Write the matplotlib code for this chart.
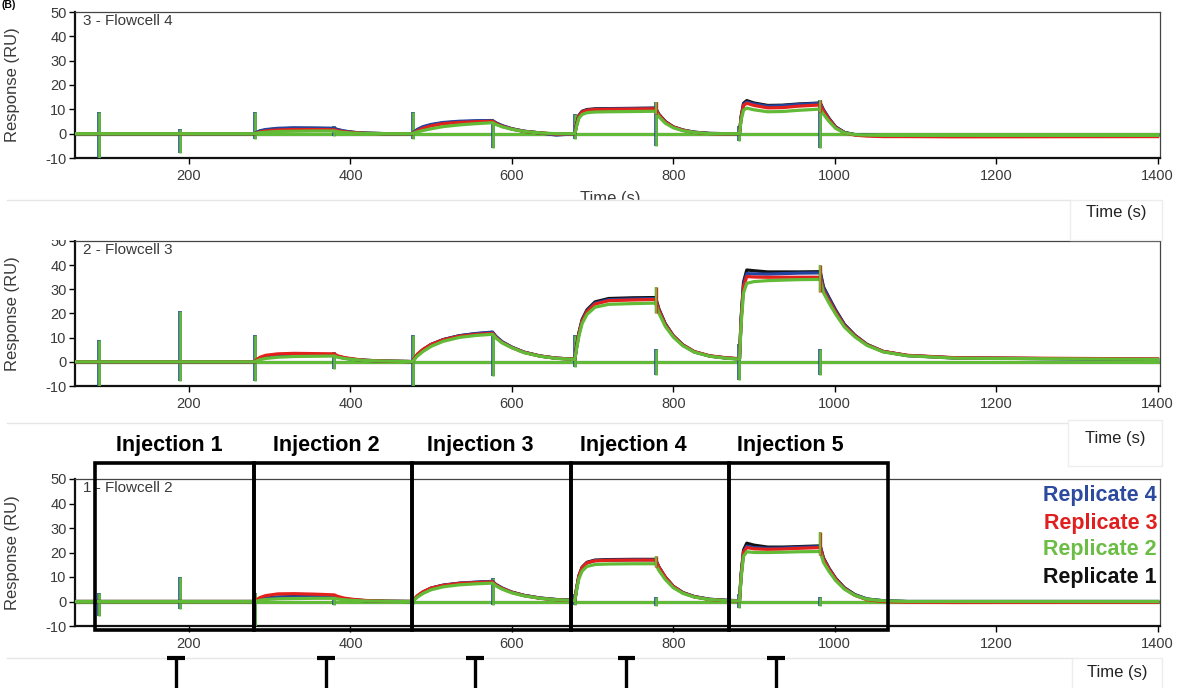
import matplotlib
matplotlib.use("Agg")
import matplotlib.pyplot as plt
from matplotlib.patches import Rectangle
from matplotlib.lines import Line2D
from matplotlib.transforms import blended_transform_factory

plt.rcParams['font.family'] = ['Liberation Sans', 'DejaVu Sans']
plt.rcParams['axes.unicode_minus'] = False

# ---------------------------------------------------------------- data
TIME_S = [
    60,
    282, 284, 288, 295, 310, 330, 355, 380,
    384, 392, 405, 420, 445, 477,
    479, 483, 490, 500, 515, 535, 555, 576,
    580, 588, 600, 615, 635, 655, 678,
    680, 683, 687, 693, 703, 720, 750, 778,
    782, 790, 800, 812, 826, 845, 865, 882,
    884, 887, 891, 900, 917, 935, 955, 982,
    986, 993, 1001, 1012, 1025, 1040, 1060, 1090, 1150, 1400,
]

# Flowcell 4
fc4_rep1 = [0,
            0, 0.5, 1.0, 1.5, 2.0, 2.2, 2.2, 2.1,
            1.6, 1.0, 0.5, 0.2, 0.0, 0.0,
            0.6, 1.5, 2.6, 3.6, 4.4, 4.9, 5.1, 5.3,
            4.4, 3.2, 2.0, 1.0, 0.3, -0.2, 0.0,
            3.5, 7.5, 9.2, 9.9, 10.2, 10.3, 10.4, 10.5,
            8.0, 5.0, 2.8, 1.5, 0.6, 0.1, 0.0, 0.0,
            7.0, 12.5, 13.6, 12.6, 11.6, 11.7, 12.2, 12.6,
            9.8, 6.2, 2.8, 0.5, -0.4, -0.7, -0.8, -0.8, -0.9, -0.9]
fc4_rep4 = [0,
            0, 0.6, 1.2, 1.7, 2.2, 2.4, 2.3, 2.2,
            1.7, 1.1, 0.5, 0.2, 0.0, 0.0,
            0.8, 1.8, 2.9, 3.8, 4.6, 5.1, 5.3, 5.4,
            4.5, 3.3, 2.0, 1.0, 0.3, -0.6, 0.0,
            3.4, 7.3, 9.0, 9.7, 10.0, 10.2, 10.3, 10.4,
            7.9, 4.9, 2.7, 1.4, 0.6, 0.1, 0.0, 0.0,
            6.8, 12.0, 13.0, 12.2, 11.3, 11.5, 12.0, 12.5,
            9.7, 6.1, 2.7, 0.5, -0.4, -0.7, -0.8, -0.8, -0.9, -0.9]
fc4_rep3 = [0,
            0, 0.3, 0.7, 1.1, 1.5, 1.7, 1.7, 1.6,
            1.2, 0.8, 0.4, 0.1, 0.0, 0.0,
            0.5, 1.2, 2.2, 3.2, 4.1, 4.6, 4.9, 5.1,
            4.2, 3.0, 1.9, 0.9, 0.3, -0.2, 0.0,
            3.3, 7.2, 8.9, 9.6, 9.9, 10.0, 10.1, 10.2,
            7.8, 4.8, 2.7, 1.4, 0.5, 0.0, -0.1, 0.0,
            6.5, 11.6, 12.5, 11.6, 10.6, 10.7, 11.3, 11.8,
            9.3, 5.8, 2.5, 0.3, -0.6, -1.0, -1.2, -1.2, -1.3, -1.2]
fc4_rep2 = [0,
            0, 0.2, 0.4, 0.6, 0.9, 1.0, 1.1, 1.1,
            0.8, 0.5, 0.2, 0.1, 0.0, 0.0,
            0.3, 0.7, 1.3, 2.0, 2.9, 3.6, 4.1, 4.5,
            3.8, 2.8, 1.8, 0.9, 0.3, 0.0, 0.0,
            2.8, 6.3, 7.9, 8.6, 8.9, 9.0, 9.1, 9.2,
            7.0, 4.3, 2.4, 1.2, 0.5, 0.0, 0.0, 0.0,
            5.5, 9.6, 10.5, 9.8, 9.0, 9.1, 9.6, 10.1,
            8.0, 5.0, 2.2, 0.3, -0.4, -0.6, -0.7, -0.7, -0.7, -0.7]

# Flowcell 3
fc3_rep1 = [0,
            0, 0.8, 1.5, 2.1, 2.6, 2.8, 2.9, 3.0,
            2.3, 1.6, 1.0, 0.6, 0.3, 0.1,
            1.2, 3.0, 5.0, 7.2, 9.2, 10.8, 11.6, 12.2,
            10.5, 8.2, 6.0, 4.0, 2.4, 1.5, 1.1,
            6.0, 12.0, 17.5, 21.5, 24.8, 26.2, 26.5, 26.6,
            22.0, 15.8, 10.8, 7.0, 4.2, 2.4, 1.6, 1.2,
            18.0, 33.0, 38.0, 37.7, 37.2, 37.2, 37.2, 37.3,
            31.0, 26.5, 21.5, 15.5, 11.0, 7.2, 4.3, 2.6, 1.6, 1.0]
fc3_rep4 = [0,
            0, 0.7, 1.4, 2.0, 2.5, 2.7, 2.8, 2.8,
            2.2, 1.5, 1.0, 0.6, 0.3, 0.1,
            1.2, 3.0, 5.0, 7.2, 9.2, 10.8, 11.7, 12.3,
            10.6, 8.3, 6.1, 4.0, 2.4, 1.5, 1.1,
            5.8, 11.7, 17.0, 21.0, 24.3, 25.7, 26.0, 26.2,
            21.7, 15.6, 10.7, 6.9, 4.1, 2.4, 1.6, 1.2,
            17.5, 32.0, 36.5, 36.4, 36.3, 36.5, 36.7, 36.8,
            30.6, 26.1, 21.2, 15.3, 10.9, 7.1, 4.3, 2.6, 1.6, 1.0]
fc3_rep3 = [0,
            0, 1.0, 1.9, 2.7, 3.3, 3.5, 3.4, 3.3,
            2.5, 1.8, 1.1, 0.6, 0.3, 0.1,
            1.3, 3.2, 5.2, 7.2, 9.1, 10.6, 11.3, 11.8,
            10.2, 8.0, 5.9, 3.9, 2.4, 1.5, 1.1,
            5.7, 11.5, 16.8, 20.7, 23.9, 25.3, 25.6, 25.8,
            21.4, 15.4, 10.6, 6.9, 4.2, 2.5, 1.7, 1.3,
            17.0, 31.0, 35.3, 35.1, 35.0, 35.0, 35.0, 35.0,
            29.4, 25.2, 20.6, 14.9, 10.7, 7.0, 4.3, 2.7, 1.7, 1.2]
fc3_rep2 = [0,
            0, 0.4, 0.9, 1.4, 1.9, 2.2, 2.3, 2.4,
            1.9, 1.4, 0.9, 0.5, 0.3, 0.1,
            0.9, 2.4, 4.3, 6.4, 8.5, 10.1, 10.9, 11.4,
            9.9, 7.8, 5.8, 3.8, 2.3, 1.4, 1.0,
            5.0, 10.5, 15.8, 19.6, 22.6, 23.8, 24.1, 24.3,
            20.2, 14.7, 10.2, 6.6, 4.0, 2.3, 1.5, 1.1,
            15.5, 28.5, 32.5, 33.2, 33.6, 33.8, 34.0, 34.1,
            28.6, 24.3, 19.8, 14.4, 10.3, 6.8, 4.1, 2.5, 1.5, 1.0]

# Flowcell 2
fc2_rep1 = [0,
            0, 0.4, 0.9, 1.4, 1.8, 2.0, 2.1, 2.1,
            1.6, 1.1, 0.6, 0.3, 0.1, 0.0,
            0.8, 2.2, 3.8, 5.4, 6.6, 7.4, 7.8, 8.1,
            6.9, 5.4, 3.8, 2.5, 1.4, 0.8, 0.5,
            5.0, 10.5, 14.0, 16.0, 16.9, 17.1, 17.2, 17.2,
            14.2, 10.0, 6.2, 3.6, 2.0, 0.9, 0.5, 0.3,
            11.0, 21.0, 23.8, 23.0, 22.2, 22.2, 22.4, 22.7,
            17.8, 13.5, 9.5, 5.6, 2.8, 1.0, 0.3, 0.0, 0.0, 0.0]
fc2_rep4 = [0,
            0, 0.4, 0.9, 1.3, 1.7, 1.9, 2.0, 2.0,
            1.5, 1.0, 0.6, 0.3, 0.1, 0.0,
            0.8, 2.2, 3.9, 5.5, 6.7, 7.5, 7.9, 8.2,
            7.0, 5.5, 3.8, 2.5, 1.4, 0.8, 0.5,
            4.9, 10.3, 13.8, 15.8, 16.7, 16.9, 17.0, 17.0,
            14.0, 9.9, 6.1, 3.6, 2.0, 0.9, 0.5, 0.3,
            10.6, 20.3, 22.6, 22.0, 21.7, 21.8, 22.1, 22.4,
            17.6, 13.3, 9.4, 5.5, 2.7, 1.0, 0.3, 0.0, 0.0, 0.0]
fc2_rep3 = [0,
            0, 0.8, 1.6, 2.4, 3.1, 3.2, 3.0, 2.7,
            2.1, 1.4, 0.8, 0.4, 0.1, 0.0,
            0.9, 2.4, 4.0, 5.5, 6.6, 7.4, 7.7, 8.0,
            6.8, 5.3, 3.7, 2.4, 1.3, 0.7, 0.4,
            4.9, 10.4, 13.8, 15.8, 16.6, 16.8, 16.9, 16.9,
            14.0, 9.9, 6.1, 3.5, 1.9, 0.8, 0.4, 0.2,
            10.4, 20.0, 22.0, 21.5, 21.3, 21.4, 21.7, 22.0,
            17.3, 13.1, 9.2, 5.3, 2.5, 0.7, 0.0, -0.3, -0.4, -0.3]
fc2_rep2 = [0,
            0, 0.2, 0.5, 0.8, 1.1, 1.2, 1.3, 1.3,
            1.0, 0.7, 0.4, 0.2, 0.1, 0.0,
            0.6, 1.8, 3.3, 4.8, 6.0, 6.8, 7.2, 7.5,
            6.4, 5.0, 3.5, 2.3, 1.3, 0.7, 0.4,
            4.3, 9.2, 12.4, 14.3, 15.1, 15.3, 15.4, 15.4,
            12.7, 9.0, 5.6, 3.3, 1.8, 0.8, 0.4, 0.2,
            9.5, 18.5, 20.3, 20.0, 20.0, 20.1, 20.3, 20.4,
            16.0, 12.2, 8.6, 5.0, 2.5, 0.9, 0.3, 0.0, 0.0, 0.0]

# buffer (blank) cycles
blank_time = [60, 1400]
blank_resp = [0, 0]

# injection start / stop artefacts
SPIKE_T = [88, 189, 282, 380, 477, 576, 678, 778, 882, 982]
fc4_spike_lo = [-10, -8, -2, -1, -2, -6, -2, -5, -3, -6]
fc4_spike_hi = [9, 2, 9, 3, 9, 5, 8, 13, 3, 14]
fc3_spike_lo = [-10, -8, -8, -3, -10, -6, -2, -5.5, -7.5, -5.5]
fc3_spike_hi = [9, 21, 11, 4, 11, 12.5, 11, 5.5, 7.5, 5.5]
fc2_spike_lo = [-6, -3, -10, -1.5, -1, -1.5, -1.5, -2, -2.5, -2]
fc2_spike_hi = [3.5, 10, 3.5, 2, 2, 9.5, 3, 2, 3, 2]
# artefacts sitting on top of the sample curves at the end of injection
CURVE_SPIKE_T = [778, 982]
fc4_cspike_lo = [8, 9]
fc4_cspike_hi = [13, 14]
fc3_cspike_lo = [20, 29]
fc3_cspike_hi = [31, 40]
fc2_cspike_lo = [14, 19]
fc2_cspike_hi = [18.5, 28.5]

PANEL_TITLES = ["3 - Flowcell 4", "2 - Flowcell 3", "1 - Flowcell 2"]
REPLICATE_LABELS = ["Replicate 4", "Replicate 3", "Replicate 2", "Replicate 1"]
INJECTION_LABELS = ["Injection 1", "Injection 2", "Injection 3", "Injection 4", "Injection 5"]
injection_edges = [83.5, 280.4, 476, 673, 868.6, 1065.5]
injection_label_t = [175, 370, 561, 751, 945]
marker_t = [184, 370, 554, 742, 927]

XTICKS = [200, 400, 600, 800, 1000, 1200, 1400]
YTICKS = [-10, 0, 10, 20, 30, 40, 50]

# ---------------------------------------------------------------- style
BLACK = "#111111"
BLUE = "#2344a0"
RED = "#e3211c"
GREEN = "#62bb37"
LEGEND_COLORS = ["#2c4a9e", "#e01f1f", "#6cbd45", "#111111"]

W, H = 1183, 688
fig = plt.figure(figsize=(W / 100, H / 100), dpi=100)


def fx(px):
    return px / W


def fy(py):
    return 1 - py / H


panel_px = [(12, 158), (241, 386), (479, 626)]
panel_data = [
    (fc4_rep1, fc4_rep4, fc4_rep3, fc4_rep2, fc4_spike_lo, fc4_spike_hi, fc4_cspike_lo, fc4_cspike_hi),
    (fc3_rep1, fc3_rep4, fc3_rep3, fc3_rep2, fc3_spike_lo, fc3_spike_hi, fc3_cspike_lo, fc3_cspike_hi),
    (fc2_rep1, fc2_rep4, fc2_rep3, fc2_rep2, fc2_spike_lo, fc2_spike_hi, fc2_cspike_lo, fc2_cspike_hi),
]

axes = []
for (top, bot), title, data in zip(panel_px, PANEL_TITLES, panel_data):
    ax = fig.add_axes([fx(75), fy(bot), (1160 - 75) / W, (bot - top) / H])
    r1, r4, r3, r2, slo, shi, clo, chi = data
    for c in (BLACK, BLUE, RED, GREEN):
        ax.plot(blank_time, blank_resp, color=c, lw=2.2, zorder=2)
    ax.vlines(SPIKE_T, slo, shi, color=BLUE, lw=2.6, zorder=3)
    ax.vlines(SPIKE_T, slo, shi, color=GREEN, lw=1.9, zorder=3)
    for vals, c in ((r1, BLACK), (r4, BLUE), (r3, RED), (r2, GREEN)):
        ax.plot(TIME_S, vals, color=c, lw=2.3, solid_joinstyle='round', zorder=4)
    ax.vlines(CURVE_SPIKE_T, clo, chi, color=RED, lw=2.4, zorder=5)
    ax.vlines(CURVE_SPIKE_T, clo, chi, color=GREEN, lw=1.6, zorder=5)

    ax.set_xlim(58.7, 1403)
    ax.set_ylim(-10, 50)
    ax.set_xticks(XTICKS)
    ax.set_yticks(YTICKS)
    ax.tick_params(axis='both', direction='out', length=4, width=1.0,
                   labelsize=10.5, labelcolor='#3a3a3a')
    ax.tick_params(axis='x', pad=4)
    ax.tick_params(axis='y', pad=2)
    for s in ('left', 'bottom'):
        ax.spines[s].set_linewidth(1.6)
        ax.spines[s].set_color('#111111')
    for s in ('top', 'right'):
        ax.spines[s].set_linewidth(0.9)
        ax.spines[s].set_color('#444444')
    ax.set_ylabel("Response (RU)", fontsize=12, color='#3a3a3a')
    ax.yaxis.set_label_coords(-0.0507, 0.5)
    ax.text(0.0074, 0.985, title, transform=ax.transAxes, ha='left', va='top',
            fontsize=11, color='#3a3a3a', zorder=6)
    axes.append(ax)

ax3 = axes[2]
tr = blended_transform_factory(ax3.transData, fig.transFigure)

# injection boxes and labels
for left, right in zip(injection_edges[:-1], injection_edges[1:]):
    ax3.add_patch(Rectangle((left, fy(630)), right - left, fy(463) - fy(630),
                            transform=tr, fill=False, ec='black', lw=2.6,
                            clip_on=False, zorder=10))
for t, lab in zip(injection_label_t, INJECTION_LABELS):
    ax3.text(t, fy(445), lab, transform=tr, ha='center', va='center',
             fontsize=15.5, fontweight='bold', color='black', clip_on=False)

# separators and time-axis captions
sep_color = '#e6e6e6'
fig.text(fx(610), fy(198), "Time (s)", ha='center', va='center',
         fontsize=12, color='#3a3a3a', zorder=5)
fig.add_artist(Rectangle((0, fy(240)), 1, fy(201) - fy(240), transform=fig.transFigure,
                         fc='white', ec='none', zorder=6))
for y, xend in ((200, 1070), (423, 1068), (658, 1072)):
    fig.add_artist(Line2D([fx(7), fx(xend)], [fy(y), fy(y)], color=sep_color, lw=1.0, zorder=7))
for (x0, x1, y0, y1, yt) in ((1070, 1162, 200, 240, 213),
                             (1068, 1162, 420, 466, 438),
                             (1072, 1162, 658, 690, 673)):
    fig.add_artist(Rectangle((fx(x0), fy(y1)), fx(x1) - fx(x0), fy(y0) - fy(y1),
                             transform=fig.transFigure, fc='white', ec='#ededed',
                             lw=1.0, zorder=8))
    fig.text(fx((x0 + x1) / 2), fy(yt), "Time (s)", ha='center', va='center',
             fontsize=12, color='#222222', zorder=9)

# T markers under the bottom panel, on top of the separator line
for t in marker_t:
    fig.add_artist(Line2D([t, t], [fy(658), fy(690)], transform=tr, color='black',
                          lw=2.4, clip_on=False, zorder=11))
    fig.add_artist(Line2D([t - 11, t + 11], [fy(658), fy(658)], transform=tr,
                          color='black', lw=3.0, clip_on=False, zorder=11,
                          solid_capstyle='butt'))

# replicate key
for i, (lab, c) in enumerate(zip(REPLICATE_LABELS, LEGEND_COLORS)):
    fig.text(fx(1157), fy(496 + i * 27), lab, ha='right', va='center',
             fontsize=15.5, fontweight='bold', color=c, zorder=12)

# figure tag at the very top-left
fig.text(fx(2), fy(0.5), "(B)", ha='left', va='top', fontsize=7.5,
         fontweight='bold', color='black', zorder=9)

fig.savefig("out.png", dpi=100, facecolor='white')
